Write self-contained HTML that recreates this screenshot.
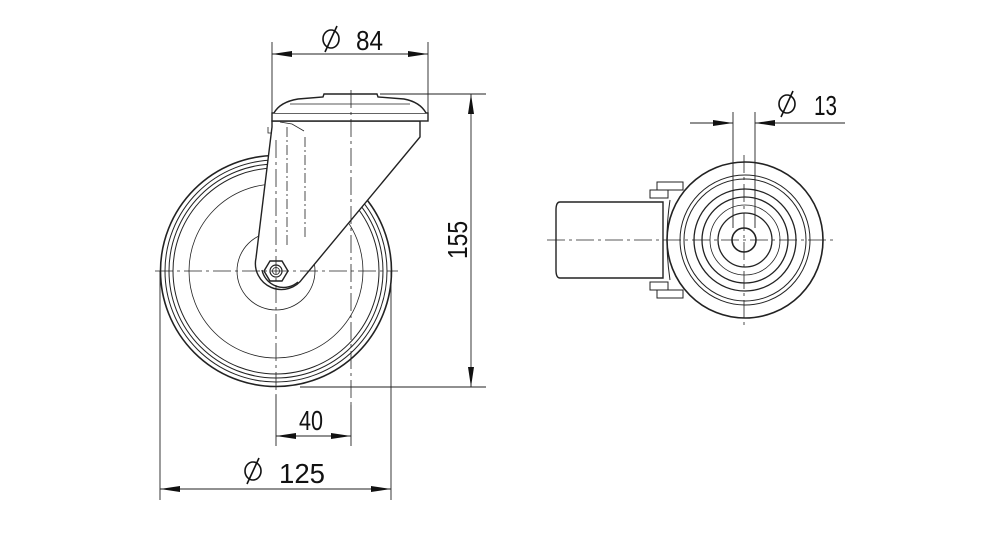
<!DOCTYPE html>
<html><head><meta charset="utf-8"><style>
html,body{margin:0;padding:0;background:#fff;width:1000px;height:535px;overflow:hidden}
text{font-family:"Liberation Sans",sans-serif;font-size:28px;fill:#111}
</style></head><body>
<svg width="1000" height="535" viewBox="0 0 1000 535" xmlns="http://www.w3.org/2000/svg">
<defs>
<marker id="a" viewBox="0 0 20 6" refX="20" refY="3" markerWidth="20" markerHeight="6" markerUnits="userSpaceOnUse" orient="auto-start-reverse"><path d="M0,0 L20,3 L0,6 z" fill="#111"/></marker>
</defs>
<g fill="none" stroke="#222" stroke-width="1">
<circle cx="276" cy="271" r="115.5" stroke-width="1.6"/>
<circle cx="276" cy="271" r="111"/>
<circle cx="276" cy="271" r="107"/>
<circle cx="276" cy="271" r="103"/>
<circle cx="276" cy="271" r="87" stroke-width="0.8"/>
<circle cx="276" cy="271" r="39" stroke-width="0.8"/>
<path d="M272,127 L256,258 A26,26 0 0 0 303,278 L420,137 L420,121 L272,121 Z" fill="#fff" stroke-width="1.4"/>
<path d="M262,270 A22,22 0 0 0 298,282" stroke-width="1.4"/>
<line x1="287" y1="127" x2="287" y2="248" stroke-dasharray="10,3,2,3" stroke-width="0.8"/>
<line x1="305" y1="137" x2="305" y2="240" stroke-dasharray="10,3,2,3" stroke-width="0.8"/>
<path d="M268,127 L268,133 L272,133 M280,122 L292,124 L304,131" stroke-width="0.8"/>
<rect x="272" y="113" width="156" height="8" fill="#fff" stroke-width="1.4"/>
<path d="M274,113 Q280,102 298,99 L323,97 L324,94 L377,94 L378,97 L404,99 Q420,102 426,113" fill="#fff" stroke-width="1.4"/>
<line x1="290" y1="104" x2="410" y2="104" stroke-width="0.8"/>
<polygon points="264,271 270,261 282,261 288,271 282,281 270,281" fill="#fff" stroke-width="1.4"/>
<circle cx="276" cy="271" r="6" stroke-width="1.2"/>
<circle cx="276" cy="271" r="3.5" stroke-width="0.8"/>
<g stroke-width="0.8" stroke-dasharray="18,4,3,4">
<line x1="155" y1="271" x2="398" y2="271"/>
<line x1="276" y1="140" x2="276" y2="395"/>
<line x1="351" y1="90" x2="351" y2="405"/>
</g>
<g stroke-width="0.9">
<line x1="272" y1="42" x2="272" y2="113"/><line x1="428" y1="42" x2="428" y2="113"/>
<line x1="272" y1="54" x2="428" y2="54" marker-start="url(#a)" marker-end="url(#a)"/>
<line x1="380" y1="94" x2="486" y2="94"/><line x1="300" y1="387" x2="486" y2="387"/>
<line x1="471" y1="94" x2="471" y2="387" marker-start="url(#a)" marker-end="url(#a)"/>
<line x1="276" y1="395" x2="276" y2="446"/><line x1="351" y1="405" x2="351" y2="446"/>
<line x1="276" y1="436" x2="351" y2="436" marker-start="url(#a)" marker-end="url(#a)"/>
<line x1="160" y1="271" x2="160" y2="500"/><line x1="391" y1="271" x2="391" y2="500"/>
<line x1="160" y1="489" x2="391" y2="489" marker-start="url(#a)" marker-end="url(#a)"/>
</g>
<path d="M560,202 L663,202 L663,278 L560,278 Q556,278 556,270 L556,210 Q556,202 560,202 Z" stroke-width="1.4"/>
<path d="M650,190 L668,190 L668,198 L650,198 Z M657,182 L683,182 L683,190 L657,190 Z" stroke-width="1"/>
<path d="M650,282 L668,282 L668,290 L650,290 Z M657,290 L683,290 L683,298 L657,298 Z" stroke-width="1"/>
<circle cx="745" cy="240" r="78" fill="#fff" stroke-width="1.6"/>
<circle cx="745" cy="240" r="65"/>
<circle cx="745" cy="240" r="61"/>
<circle cx="745" cy="240" r="51" stroke-width="1.3"/>
<circle cx="745" cy="240" r="43" stroke-width="1.3"/>
<circle cx="745" cy="240" r="35" stroke-width="0.8"/>
<circle cx="745" cy="240" r="27" stroke-width="1.3"/>
<circle cx="744" cy="240" r="12" stroke-width="1.6"/>
<path d="M670,200 Q664,240 670,280" stroke-width="1"/>
<g stroke-width="0.8" stroke-dasharray="18,4,3,4">
<line x1="547" y1="240" x2="835" y2="240"/>
<line x1="744" y1="155" x2="744" y2="325"/>
</g>
<g stroke-width="0.9">
<line x1="733" y1="112" x2="733" y2="228"/><line x1="755" y1="112" x2="755" y2="228"/>
<line x1="690" y1="123" x2="733" y2="123" marker-end="url(#a)"/>
<line x1="845" y1="123" x2="755" y2="123" marker-end="url(#a)"/>
</g>
<!-- phi symbols drawn as circle + slash -->
<g stroke="#111" stroke-width="1.6">
<ellipse cx="331" cy="39" rx="8" ry="9"/><line x1="337" y1="26" x2="325" y2="52"/>
<ellipse cx="253" cy="471" rx="8" ry="9"/><line x1="259" y1="458" x2="247" y2="484"/>
<ellipse cx="787" cy="104" rx="8" ry="9"/><line x1="793" y1="91" x2="781" y2="117"/>
</g>
</g>
<text x="356" y="50" textLength="27" lengthAdjust="spacingAndGlyphs">84</text>
<text x="279" y="483" textLength="46" lengthAdjust="spacingAndGlyphs">125</text>
<text x="299" y="430" textLength="24" lengthAdjust="spacingAndGlyphs">40</text>
<text x="814" y="115" textLength="23" lengthAdjust="spacingAndGlyphs">13</text>
<text transform="translate(467,259) rotate(-90)" textLength="38" lengthAdjust="spacingAndGlyphs">155</text>
</svg>
</body></html>
